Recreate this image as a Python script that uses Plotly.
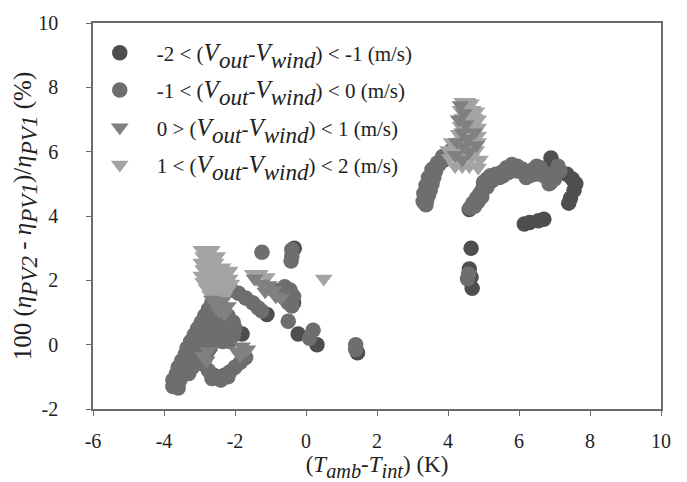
import plotly.graph_objects as go

# ---- data ----
# Series 1: -2 < dV < -1 (dark circles)
s1_x = [-1.8, -1.1, -0.35, -0.4, -0.22, 0.31, -0.33, 1.45, -2.1,
        4.6, 4.65, 4.6, 4.65, 4.68,
        6.15, 6.3, 6.55, 6.7,
        6.9, 6.95, 7.35, 7.5, 7.6, 7.55, 7.45, 7.4]
s1_y = [0.33, 0.94, 1.3, 1.55, 0.33, 0.0, 3.0, -0.25, 0.6,
        4.2, 3.0, 2.35, 2.1, 1.75,
        3.75, 3.8, 3.85, 3.9,
        5.8, 5.65, 5.3, 5.15, 5.0, 4.8, 4.55, 4.4]

# Series 2: -1 < dV < 0 (medium circles)
s2_x = [-3.75, -3.6,
        -3.75, -3.55,
        -3.65, -3.45, -3.3,
        -3.6, -3.4, -3.2,
        -3.5, -3.3, -3.1,
        -3.4, -3.2, -3.0, -2.8,
        -3.35, -3.15, -2.95, -2.7,
        -3.25, -3.05, -2.85, -2.6, -2.35, -2.15,
        -3.15, -2.95, -2.75, -2.5, -2.25, -2.05,
        -3.05, -2.85, -2.65, -2.4, -2.15, -2.0,
        -2.95, -2.75, -2.5, -2.25, -2.05,
        -2.85, -2.65, -2.4, -2.2,
        -2.75, -2.55, -2.3,
        -2.65, -2.45,
        -2.85, -2.75, -2.6, -2.45, -2.3, -2.15, -2.0, -1.85, -1.7,
        -2.9, -2.65, -2.4, -2.2,
        -2.1, -1.9, -1.7, -1.5, -1.35, -1.25,
        -0.9, -0.75, -0.6, -0.5, -0.4, -0.35, -0.45, -0.6,
        -1.24, -0.4, -0.4, -0.42, -0.5, 0.2, 0.1, 1.4, 1.4,
        3.38, 3.4, 3.45, 3.5, 3.55, 3.6, 3.65, 3.75, 3.9, 4.0, 4.1, 4.2,
        3.3, 3.32, 3.38, 3.45, 3.55, 3.7, 3.85,
        4.62, 4.7, 4.8, 4.9, 4.98, 5.05, 5.1, 5.2, 5.35, 5.5, 5.65, 5.8, 5.95, 6.1, 6.25, 6.4, 6.5, 6.6, 6.7, 6.8, 6.9, 7.0, 7.05, 7.1,
        4.75, 4.85, 4.95, 5.1, 5.25, 5.45, 5.7, 5.95, 6.2, 6.45, 6.7, 6.85, 7.15,
        5.0, 5.15, 5.35, 5.55, 5.75, 6.0, 6.3, 6.55,
        4.55, 4.58]
s2_y = [-1.3, -1.35,
        -1.1, -1.1,
        -0.9, -0.9, -0.9,
        -0.7, -0.7, -0.7,
        -0.5, -0.5, -0.5,
        -0.3, -0.3, -0.3, -0.3,
        -0.1, -0.1, -0.1, -0.1,
        0.1, 0.1, 0.1, 0.1, 0.1, 0.1,
        0.3, 0.3, 0.3, 0.3, 0.3, 0.3,
        0.5, 0.5, 0.5, 0.5, 0.5, 0.5,
        0.7, 0.7, 0.7, 0.7, 0.7,
        0.9, 0.9, 0.9, 0.9,
        1.1, 1.1, 1.1,
        1.3, 1.3,
        -0.45, -0.8, -0.95, -1.0, -0.95, -0.85, -0.7, -0.55, -0.4,
        -0.6, -1.05, -1.1, -1.0,
        1.7, 1.6, 1.45, 1.3, 1.15, 1.05,
        1.7, 1.55, 1.45, 1.3, 1.2, 1.5, 1.7, 1.8,
        2.87, 2.95, 2.75, 2.6, 0.73, 0.45, 0.2, 0.0, -0.15,
        4.35, 4.5, 4.65, 4.8, 5.0, 5.2, 5.4, 5.6, 5.75, 5.9, 6.05, 6.2,
        4.45, 4.7, 4.95, 5.2, 5.45, 5.65, 5.85,
        4.25, 4.4, 4.55, 4.7, 4.85, 5.0, 5.15, 5.25, 5.3, 5.35, 5.5, 5.6, 5.55, 5.45, 5.35, 5.45, 5.55, 5.5, 5.35, 5.2, 5.05, 5.15, 5.35, 5.55,
        4.3, 4.45, 4.6, 4.9, 5.1, 5.2, 5.35, 5.4, 5.2, 5.3, 5.25, 5.0, 5.4,
        5.05, 5.1, 5.2, 5.25, 5.4, 5.45, 5.25, 5.35,
        2.05, 2.2]

# Series 3: 0 > dV < 1 (medium triangles)
s3_x = [-2.65, -2.5, -2.35, -2.2, -2.45, -2.3,
        -2.9, -2.75, -2.8,
        -1.95, -1.8, -1.65, -1.85,
        -1.45, -1.25, -1.05, -0.9, -1.15, -0.85, -0.7,
        4.35, 4.45, 4.3, 4.5, 4.4, 4.55, 4.25, 4.45, 4.6, 4.2, 4.4, 4.75, 4.8]
s3_y = [1.4, 1.25, 1.35, 1.2, 1.05, 0.95,
        -0.35, -0.2, -0.5,
        -0.2, -0.05, -0.15, -0.35,
        2.05, 1.9, 1.85, 1.7, 1.65, 1.5, 1.45,
        7.45, 7.2, 7.0, 6.85, 6.6, 6.4, 6.3, 6.15, 6.0, 5.9, 5.75, 6.6, 6.2]

# Series 4: 1 < dV < 2 (light triangles)
s4_x = [-2.95, -2.8, -2.65,
        -2.9, -2.7, -2.5,
        -2.95, -2.75, -2.55, -2.35,
        -2.9, -2.7, -2.5, -2.3, -2.15,
        -2.95, -2.75, -2.55, -2.35, -2.15,
        -2.9, -2.7, -2.5, -2.3, -2.1,
        -2.8, -2.6, -2.4, -2.2,
        -2.7, -2.5, -2.3,
        -1.5, -1.3, -1.1, -1.4, 0.5,
        4.4, 4.55, 4.65,
        4.35, 4.5, 4.7, 4.8,
        4.4, 4.55, 4.75, 4.85,
        4.35, 4.5, 4.7, 4.85,
        4.3, 4.5, 4.65, 4.85,
        4.1, 4.25, 4.45, 4.65, 4.85,
        4.0, 4.2, 4.4, 4.6, 4.8,
        4.05, 4.25, 4.45, 4.65, 4.9,
        4.2, 4.4, 4.6, 4.85]
s4_y = [2.95, 2.9, 2.95,
        2.75, 2.7, 2.75,
        2.55, 2.5, 2.55, 2.4,
        2.35, 2.3, 2.35, 2.25, 2.3,
        2.15, 2.1, 2.15, 2.1, 2.05,
        1.95, 1.9, 1.95, 1.85, 1.9,
        1.75, 1.7, 1.75, 1.7,
        1.55, 1.55, 1.5,
        2.2, 2.2, 2.1, 2.05, 2.05,
        7.55, 7.55, 7.5,
        7.3, 7.3, 7.3, 7.25,
        7.05, 7.05, 7.05, 7.0,
        6.8, 6.8, 6.8, 6.75,
        6.55, 6.55, 6.55, 6.5,
        6.3, 6.3, 6.3, 6.3, 6.3,
        6.05, 6.05, 6.05, 6.05, 6.05,
        5.8, 5.8, 5.8, 5.8, 5.75,
        5.55, 5.55, 5.55, 5.5]

SUB = "<span style='font-size:33px'><sub>{}</sub></span>"
V = "<span style='font-size:25px'>V</span>"
VOUT = "<i>" + V + SUB.format("out") + "</i>-<i>" + V + SUB.format("wind") + "</i>"
labels = [
    "-2 &lt; (" + VOUT + ") &lt; -1 (m/s)",
    "-1 &lt; (" + VOUT + ") &lt; 0 (m/s)",
    "0 &gt; (" + VOUT + ") &lt; 1 (m/s)",
    "1 &lt; (" + VOUT + ") &lt; 2 (m/s)",
]
x_ticks = [-6, -4, -2, 0, 2, 4, 6, 8, 10]
x_ticktext = ["-6", "-4", "-2", "0", "2", "4", "6", "8", "10"]
y_ticks = [-2, 0, 2, 4, 6, 8, 10]
y_ticktext = ["-2", "0", "2", "4", "6", "8", "10"]

FONT = "Liberation Serif"
TXT = "#222222"
colors = ["#4e4e50", "#6e6e70", "#808082", "#a3a3a5"]
symbols = ["circle", "circle", "triangle-down", "triangle-down"]

fig = go.Figure()
series = [(s1_x, s1_y), (s2_x, s2_y), (s3_x, s3_y), (s4_x, s4_y)]
draw_order = [0, 1, 3, 2]
for i in draw_order:
    xs, ys = series[i]
    fig.add_trace(go.Scatter(
        x=xs, y=ys, mode="markers", name=labels[i],
        legendrank=i + 1, legendgroup=f"g{i}",
        marker=dict(symbol=symbols[i], size=15.5, color=colors[i], line=dict(width=0)),
    ))

YSUB = "<span style='font-size:33px'><sub>{}</sub></span>"
ytitle = ("100 (<i>η" + YSUB.format("PV2") + "</i> - <i>η" + YSUB.format("PV1") +
          "</i>)/<i>η" + YSUB.format("PV1") + "</i> (%)")
XSUB = "<span style='font-size:29px'><sub>{}</sub></span>"
xtitle = "(<i>T" + XSUB.format("amb") + "</i>-<i>T" + XSUB.format("int") + "</i>) (K)"

fig.update_layout(
    width=687, height=482,
    margin=dict(l=93, r=26, t=17, b=73),
    paper_bgcolor="white", plot_bgcolor="white",
    font=dict(family=FONT, size=20, color=TXT),
    showlegend=True,
    legend=dict(x=-0.018, y=0.975, xanchor="left", yanchor="top",
                bgcolor="rgba(0,0,0,0)", font=dict(family=FONT, size=21, color=TXT),
                tracegroupgap=7, itemwidth=64),
    xaxis=dict(range=[-6, 10], tickvals=x_ticks, ticktext=x_ticktext, ticks="outside", ticklen=5,
               tickcolor="#6a6a6a",
               showline=True, linecolor="#6a6a6a", linewidth=1.5, mirror=True,
               showgrid=False, zeroline=False, ticklabelstandoff=8,
               tickfont=dict(family=FONT, size=20, color=TXT),
               title=dict(text=xtitle, font=dict(family=FONT, size=23, color=TXT), standoff=2)),
    yaxis=dict(range=[-2, 10], tickvals=y_ticks, ticktext=y_ticktext, ticks="outside", ticklen=5,
               tickcolor="#6a6a6a",
               showline=True, linecolor="#6a6a6a", linewidth=1.5, mirror=True,
               showgrid=False, zeroline=False, ticklabelstandoff=24,
               tickfont=dict(family=FONT, size=20, color=TXT),
               title=dict(text=ytitle, font=dict(family=FONT, size=25, color=TXT), standoff=0)),
)

fig.write_html("out.html")
